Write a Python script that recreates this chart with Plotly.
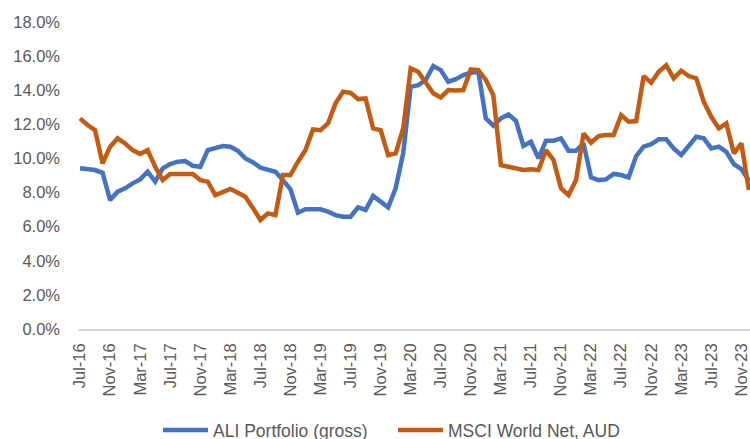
import plotly.graph_objects as go

# Monthly labels Jul-16 .. Dec-23
months = []
_mn = ["Jan", "Feb", "Mar", "Apr", "May", "Jun", "Jul", "Aug", "Sep", "Oct", "Nov", "Dec"]
for y in range(2016, 2024):
    for m in range(12):
        if y == 2016 and m < 6:
            continue
        months.append(f"{_mn[m]}-{str(y)[2:]}")

ali_portfolio = [
    9.42, 9.40, 9.32, 9.16, 7.56, 8.05, 8.25, 8.54, 8.77, 9.22,
    8.64, 9.42, 9.67, 9.81, 9.85, 9.57, 9.51, 10.49, 10.63, 10.73,
    10.69, 10.45, 10.00, 9.78, 9.46, 9.32, 9.22, 8.73, 8.19, 6.82,
    7.02, 7.02, 7.02, 6.88, 6.68, 6.58, 6.58, 7.13, 6.98, 7.80,
    7.46, 7.13, 8.25, 10.30, 14.20, 14.30, 14.60, 15.42, 15.18, 14.50,
    14.65, 14.89, 15.02, 15.08, 12.35, 11.93, 12.35, 12.58, 12.21, 10.73,
    10.98, 10.00, 11.04, 11.04, 11.18, 10.45, 10.45, 10.88, 8.89, 8.73,
    8.77, 9.09, 9.03, 8.89, 10.14, 10.69, 10.84, 11.12, 11.12, 10.59,
    10.20, 10.69, 11.27, 11.18, 10.59, 10.69, 10.39, 9.67, 9.38, 8.70,
]

msci_world = [
    12.35, 11.96, 11.66, 9.71, 10.69, 11.18, 10.88, 10.49, 10.26, 10.49,
    9.51, 8.73, 9.09, 9.09, 9.09, 9.09, 8.73, 8.64, 7.85, 8.05,
    8.21, 7.99, 7.76, 7.10, 6.39, 6.78, 6.68, 9.03, 9.03, 9.81,
    10.49, 11.70, 11.66, 12.06, 13.23, 13.91, 13.85, 13.48, 13.52, 11.76,
    11.66, 10.20, 10.30, 11.76, 15.28, 15.08, 14.40, 13.82, 13.58, 14.01,
    13.98, 14.01, 15.22, 15.18, 14.60, 13.70, 9.61, 9.51, 9.36, 9.32,
    9.36, 9.32, 10.49, 9.91, 8.25, 7.85, 8.73, 11.47, 10.92, 11.31,
    11.37, 11.37, 12.54, 12.15, 12.19, 14.83, 14.44, 15.08, 15.47, 14.70,
    15.14, 14.83, 14.70, 13.32, 12.44, 11.76, 12.06, 10.30, 10.88, 8.15,
]

tick_labels = months[::4]
y_ticks = [0, 2, 4, 6, 8, 10, 12, 14, 16, 18]

FONT = "Liberation Sans, Arial, sans-serif"
GREY = "#595959"

fig = go.Figure()
fig.add_trace(go.Scatter(
    x=months, y=ali_portfolio, mode="lines", name="ALI Portfolio (gross)",
    line=dict(color="#4472C4", width=4.5),
))
fig.add_trace(go.Scatter(
    x=months, y=msci_world, mode="lines", name="MSCI World Net, AUD",
    line=dict(color="#C55A11", width=4.5),
))

fig.update_layout(
    width=750, height=439,
    margin=dict(l=78, r=0, t=22, b=110, autoexpand=False),
    paper_bgcolor="white", plot_bgcolor="white",
    font=dict(family=FONT, color=GREY, size=16),
    showlegend=True,
    legend=dict(
        orientation="h",
        xref="container", x=0.2107, xanchor="left",
        yref="container", y=0.0205, yanchor="middle",
        font=dict(size=17.5, color=GREY), itemwidth=45, tracegroupgap=0,
        entrywidth=175, entrywidthmode="pixels",
    ),
)
fig.update_xaxes(
    type="category",
    range=[-0.27, 89.15],
    tickmode="array", tickvals=tick_labels, ticktext=tick_labels,
    tickangle=-90, tickfont=dict(size=16.5, color=GREY),
    showgrid=False, zeroline=False, automargin=False,
    showline=True, linecolor="#D9D9D9", linewidth=1.5,
    ticks="", ticklabelstandoff=6,
)
fig.update_yaxes(
    range=[0, 18],
    tickmode="array", tickvals=y_ticks,
    ticktext=[f"{v:.1f}%" for v in y_ticks],
    tickfont=dict(size=16.5, color=GREY),
    showgrid=False, zeroline=False, showline=False, automargin=False,
    ticks="", ticklabelstandoff=17,
)

fig.write_html(
    "out.html",
    config={"displayModeBar": False},
    post_script="document.body.style.margin='0';document.body.style.overflow='hidden';",
)
